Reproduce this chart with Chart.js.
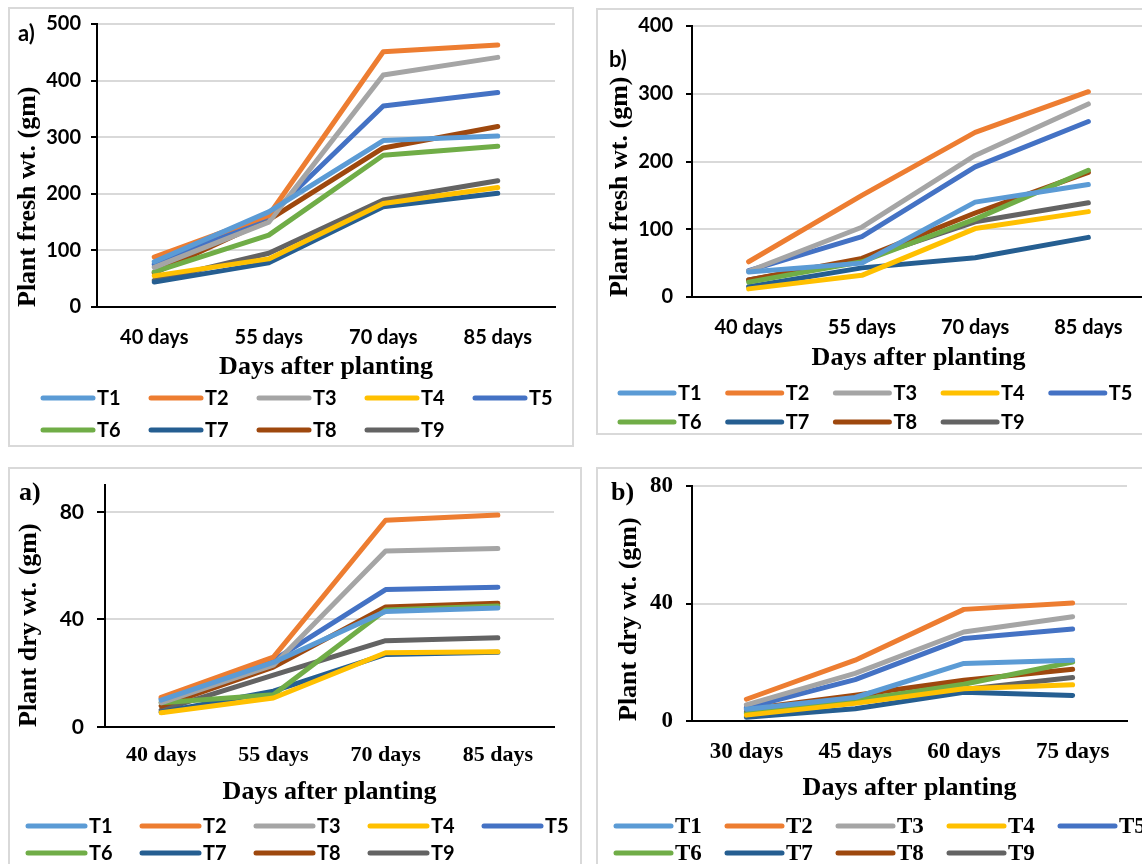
<!DOCTYPE html>
<html>
<head>
<meta charset="utf-8">
<script src="https://cdn.jsdelivr.net/npm/chart.js@4.4.1/dist/chart.umd.min.js"></script>
<style>
  html, body { margin: 0; padding: 0; background: #fff; }
  body { width: 1142px; height: 864px; overflow: hidden; position: relative; }
  .panel { position: absolute; box-sizing: border-box; border: 2px solid #d9d9d9; }
  canvas { position: absolute; }
  .tag { position: absolute; font-weight: bold; color: #000; line-height: 30px; height: 30px; }
  .sans { font-family: Lato, "Open Sans", sans-serif; }
  .serif { font-family: "Liberation Serif", "DejaVu Serif", serif; }
</style>
</head>
<body>
<div class="panel" style="left:8px;top:7px;width:566px;height:440px"></div>
<div class="panel" style="left:596px;top:8px;width:620px;height:427px"></div>
<div class="panel" style="left:8px;top:467px;width:574px;height:420px"></div>
<div class="panel" style="left:596px;top:467px;width:620px;height:420px"></div>

<canvas id="freshA" width="562" height="436" style="left:10px;top:9px"></canvas>
<canvas id="freshB" width="560" height="424" style="left:598px;top:10px"></canvas>
<canvas id="dryA" width="570" height="395" style="left:10px;top:469px"></canvas>
<canvas id="dryB" width="544" height="395" style="left:598px;top:469px"></canvas>

<div class="tag sans" style="left:18px;top:18px;font-size:22px">a)</div>
<div class="tag sans" style="left:609px;top:44px;font-size:22px">b)</div>
<div class="tag serif" style="left:19px;top:477px;font-size:26px">a)</div>
<div class="tag serif" style="left:611px;top:477px;font-size:26px">b)</div>

<script>
const seriesNames = ["T1", "T2", "T3", "T4", "T5", "T6", "T7", "T8", "T9"];
const seriesColors = ["#5b9bd5", "#ed7d31", "#a5a5a5", "#ffc000", "#4472c4",
                      "#70ad47", "#255e91", "#9e480e", "#636363"];

const daysLate = ["40 days", "55 days", "70 days", "85 days"];
const daysEarly = ["30 days", "45 days", "60 days", "75 days"];

// fresh weight, first trial (one row per treatment T1..T9)
const freshA = [
  [80, 168, 294, 302],
  [88, 162, 451, 463],
  [70, 150, 410, 441],
  [55, 85, 183, 211],
  [75, 160, 355, 379],
  [62, 127, 268, 284],
  [44, 78, 177, 201],
  [60, 154, 281, 319],
  [47, 95, 189, 223]
];

// fresh weight, second trial
const freshB = [
  [37, 50, 140, 166],
  [52, 150, 243, 303],
  [38, 103, 209, 285],
  [12, 32, 101, 126],
  [39, 89, 192, 259],
  [22, 52, 115, 187],
  [15, 43, 58, 88],
  [25, 57, 124, 184],
  [25, 55, 111, 139]
];

// dry weight, first trial
const dryA = [
  [10, 24, 43, 44.3],
  [11, 26, 76.9, 78.8],
  [9, 23, 65.5, 66.4],
  [5.3, 10.8, 27.6, 28],
  [10.5, 24.8, 51.1, 52],
  [9, 12, 43.5, 45],
  [5.5, 13.3, 27, 27.8],
  [7.8, 22.3, 44.6, 46],
  [6.3, 19.3, 32.1, 33.2]
];

// dry weight, second trial
const dryB = [
  [4, 8, 19.6, 20.7],
  [7.4, 20.7, 38, 40.2],
  [5.5, 16.2, 30.3, 35.5],
  [2, 6, 11, 12.3],
  [4.5, 14.1, 28.1, 31.3],
  [2.5, 7, 12.5, 20.1],
  [1.3, 4.2, 9.8, 8.7],
  [4, 8.8, 13.9, 17.6],
  [3, 7.5, 10.7, 14.8]
];

const SANS = "Lato, 'Open Sans', sans-serif";
const SERIF = "'Liberation Serif', 'DejaVu Serif', serif";

// Excel-style key: short thick line + name, five per row, left aligned
function lineKey(key) {
  return {
    id: "lineKey",
    afterDraw(chart) {
      const ctx = chart.ctx;
      ctx.save();
      ctx.font = key.font;
      ctx.textBaseline = "middle";
      ctx.lineCap = "round";
      ctx.lineWidth = 5;
      chart.data.datasets.forEach((ds, i) => {
        const x = key.x + (i % 5) * key.dx;
        const y = key.y + Math.floor(i / 5) * key.dy;
        ctx.strokeStyle = ds.borderColor;
        ctx.beginPath();
        ctx.moveTo(x, y);
        ctx.lineTo(x + key.len, y);
        ctx.stroke();
        ctx.fillStyle = "#000";
        ctx.fillText(ds.label, x + key.len + 4, y + 1);
      });
      ctx.restore();
    }
  };
}

function drawPanel(id, p) {
  return new Chart(document.getElementById(id), {
    type: "line",
    data: {
      labels: p.categories,
      datasets: seriesNames.map((name, i) => ({
        label: name,
        data: p.values[i],
        borderColor: seriesColors[i],
        backgroundColor: seriesColors[i],
        borderWidth: 5,
        borderCapStyle: "round",
        borderJoinStyle: "round",
        pointRadius: 0,
        tension: 0
      }))
    },
    options: {
      responsive: false,
      animation: false,
      layout: { padding: p.padding },
      plugins: { legend: { display: false }, tooltip: { enabled: false } },
      scales: {
        x: {
          offset: true,
          grid: { display: false, drawTicks: false },
          border: { color: "#000", width: 2 },
          ticks: { color: "#000", font: p.xTickFont, padding: p.xTickPad, maxRotation: 0, autoSkip: false },
          title: {
            display: true,
            text: "Days after planting",
            color: "#000",
            font: { family: SERIF, size: 26, weight: "bold" },
            padding: { top: 0, bottom: p.xTitlePad }
          },
          afterFit: (s) => {
            s.height = p.xHeight;
            s.paddingLeft = 0;
            s.paddingRight = 0;
          }
        },
        y: {
          min: 0,
          max: p.yMax,
          ticks: { stepSize: p.yStep, includeBounds: false, color: "#000", font: p.yTickFont, padding: p.yTickPad },
          grid: {
            color: (c) => (c.tick && c.tick.value === 0 ? "rgba(0,0,0,0)" : "#d9d9d9"),
            lineWidth: 2,
            tickColor: "#000",
            tickWidth: 2,
            tickLength: p.tickLen
          },
          border: { color: "#000", width: 2 },
          title: {
            display: true,
            align: "start",
            text: p.yTitle,
            color: "#000",
            font: { family: SERIF, size: 26, weight: "bold" },
            padding: { top: p.yTitlePad, bottom: 0 }
          },
          afterFit: (s) => {
            // fixed gutter; tick labels may overhang the plot top/bottom
            s.width = p.yWidth;
            s.paddingTop = 0;
            s.paddingBottom = 0;
          }
        }
      }
    },
    plugins: [lineKey(p.key)]
  });
}

drawPanel("freshA", {
  categories: daysLate, values: freshA, yMax: 500, yStep: 100,
  yTitle: "Plant fresh wt. (gm)",
  padding: { left: 0, top: 15, right: 17, bottom: 53 },
  yWidth: 87, xHeight: 85, tickLen: 6,
  xTickFont: { family: SANS, size: 20, weight: "bold" }, xTickPad: 19, xTitlePad: 9,
  yTickFont: { family: SANS, size: 20, weight: "bold" }, yTickPad: 10, yTitlePad: 3,
  key: { x: 33, y: 389, dx: 108, dy: 32, len: 50, font: "bold 20px " + SANS }
});

drawPanel("freshB", {
  categories: daysLate, values: freshB, yMax: 400, yStep: 100,
  yTitle: "Plant fresh wt. (gm)",
  padding: { left: 0, top: 16, right: 13, bottom: 52 },
  yWidth: 94, xHeight: 85, tickLen: 6,
  xTickFont: { family: SANS, size: 20, weight: "bold" }, xTickPad: 19, xTitlePad: 8,
  yTickFont: { family: SANS, size: 20, weight: "bold" }, yTickPad: 13, yTitlePad: 7,
  key: { x: 22, y: 383, dx: 107.7, dy: 29, len: 54, font: "bold 20px " + SANS }
});

drawPanel("dryA", {
  categories: daysLate, values: dryA, yMax: 90, yStep: 40,
  yTitle: "Plant dry wt. (gm)",
  padding: { left: 0, top: 16, right: 26, bottom: 52 },
  yWidth: 95, xHeight: 85, tickLen: 8,
  xTickFont: { family: SERIF, size: 22, weight: "bold" }, xTickPad: 15, xTitlePad: 4,
  yTickFont: { family: SANS, size: 21, weight: "bold" }, yTickPad: 13, yTitlePad: 4,
  key: { x: 18, y: 357, dx: 114, dy: 27, len: 57, font: "bold 20px " + SANS }
});

drawPanel("dryB", {
  categories: daysEarly, values: dryB, yMax: 80, yStep: 40,
  yTitle: "Plant dry wt. (gm)",
  padding: { left: 0, top: 17, right: 15, bottom: 58 },
  yWidth: 94, xHeight: 85, tickLen: 6,
  xTickFont: { family: SERIF, size: 23, weight: "bold" }, xTickPad: 17, xTitlePad: 2,
  yTickFont: { family: SERIF, size: 23, weight: "bold" }, yTickPad: 13, yTitlePad: 16,
  key: { x: 18, y: 357, dx: 111, dy: 27, len: 55, font: "bold 23px " + SERIF }
});
</script>
</body>
</html>
